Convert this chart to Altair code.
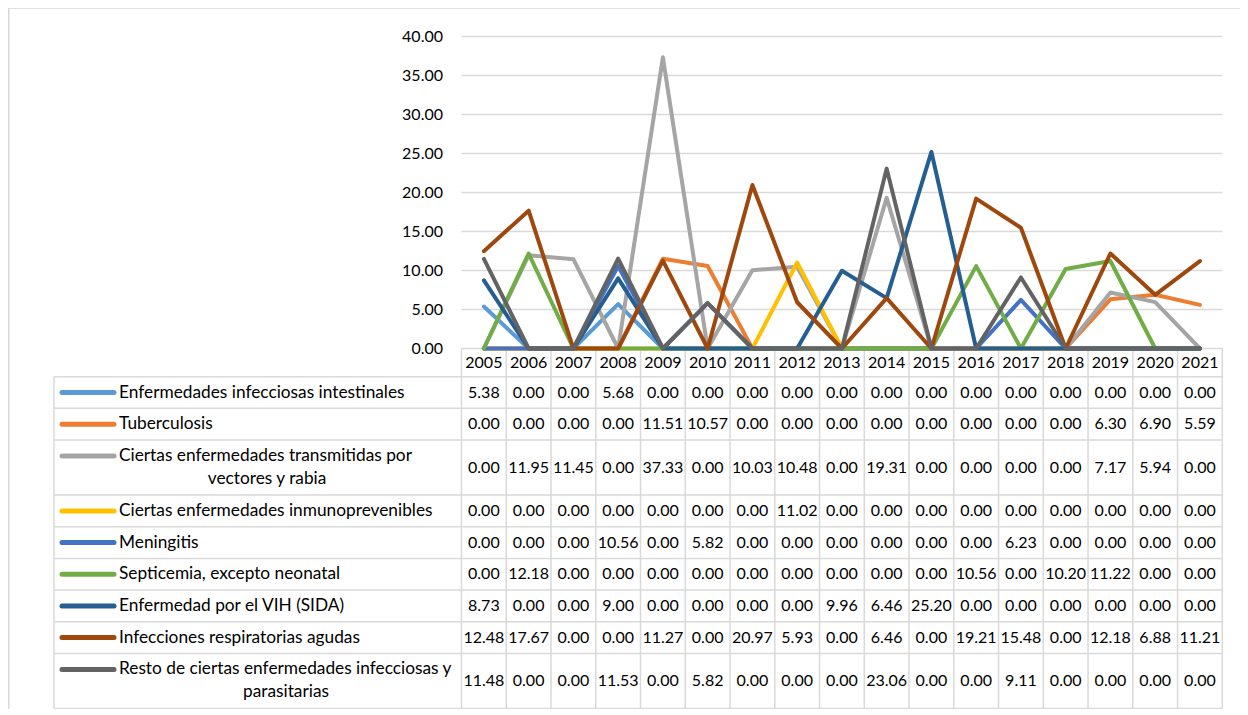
import altair as alt
import pandas as pd

# ---------------- data ----------------
years = list(range(2005, 2022))
series_names = [
    "Enfermedades infecciosas intestinales",
    "Tuberculosis",
    "Ciertas enfermedades transmitidas por vectores y rabia",
    "Ciertas enfermedades inmunoprevenibles",
    "Meningitis",
    "Septicemia, excepto neonatal",
    "Enfermedad por el VIH (SIDA)",
    "Infecciones respiratorias agudas",
    "Resto de ciertas enfermedades infecciosas y parasitarias",
]
label_lines = [
    ["Enfermedades infecciosas intestinales"],
    ["Tuberculosis"],
    ["Ciertas enfermedades transmitidas por", "vectores y rabia"],
    ["Ciertas enfermedades inmunoprevenibles"],
    ["Meningitis"],
    ["Septicemia, excepto neonatal"],
    ["Enfermedad por el VIH (SIDA)"],
    ["Infecciones respiratorias agudas"],
    ["Resto de ciertas enfermedades infecciosas y", "parasitarias"],
]
intestinales = [5.38, 0, 0, 5.68, 0, 0, 0, 0, 0, 0, 0, 0, 0, 0, 0, 0, 0]
tuberculosis = [0, 0, 0, 0, 11.51, 10.57, 0, 0, 0, 0, 0, 0, 0, 0, 6.30, 6.90, 5.59]
vectores = [0, 11.95, 11.45, 0, 37.33, 0, 10.03, 10.48, 0, 19.31, 0, 0, 0, 0, 7.17, 5.94, 0]
inmunoprevenibles = [0, 0, 0, 0, 0, 0, 0, 11.02, 0, 0, 0, 0, 0, 0, 0, 0, 0]
meningitis = [0, 0, 0, 10.56, 0, 5.82, 0, 0, 0, 0, 0, 0, 6.23, 0, 0, 0, 0]
septicemia = [0, 12.18, 0, 0, 0, 0, 0, 0, 0, 0, 0, 10.56, 0, 10.20, 11.22, 0, 0]
vih = [8.73, 0, 0, 9.00, 0, 0, 0, 0, 9.96, 6.46, 25.20, 0, 0, 0, 0, 0, 0]
respiratorias = [12.48, 17.67, 0, 0, 11.27, 0, 20.97, 5.93, 0, 6.46, 0, 19.21, 15.48, 0, 12.18, 6.88, 11.21]
resto = [11.48, 0, 0, 11.53, 0, 5.82, 0, 0, 0, 23.06, 0, 0, 9.11, 0, 0, 0, 0]
series_values = [intestinales, tuberculosis, vectores, inmunoprevenibles, meningitis,
                 septicemia, vih, respiratorias, resto]
y_ticks = [0, 5, 10, 15, 20, 25, 30, 35, 40]

# ---------------- styles / layout ----------------
colors = ["#5B9BD5", "#ED7D31", "#A5A5A5", "#FFC000", "#4472C4",
          "#70AD47", "#255E91", "#9E480E", "#636363"]
FONT = "Lato"
FS_NUM = 16
FS_LAB = 17.3
GRID = "#d9d9d9"
W, H = 1232, 701


def px(x):
    return x - 8


def py(y):
    return y - 8


PLOT_L, PLOT_R = 461.5, 1222.3
Y_ZERO, Y_TOP = 348.5, 36.5
TABLE_L = 54
HEADER_H = 28.2
row_heights = [31.67, 31.67, 55, 31.67, 31.67, 31.67, 31.67, 31.67, 55]
total_h = HEADER_H + sum(row_heights)

xscale = alt.Scale(domain=[2004.5, 2021.5], range=[px(PLOT_L), px(PLOT_R)], nice=False, zero=False)
vscale = alt.Scale(domain=[0, 40], range=[py(Y_ZERO), py(Y_TOP)], nice=False, zero=False)
tscale = alt.Scale(domain=[0, total_h], range=[py(Y_ZERO), py(Y_ZERO + total_h)], nice=False, zero=False)

one = pd.DataFrame({"a": [0]})

layers = []

# chart border (top + left)
layers.append(alt.Chart(one).mark_rule(color=GRID, strokeWidth=1.5).encode(
    x=alt.value(0), x2=alt.value(W), y=alt.value(0)))
layers.append(alt.Chart(one).mark_rule(color=GRID, strokeWidth=1.5).encode(
    x=alt.value(0.8), y=alt.value(0), y2=alt.value(H)))

# gridlines
ticks_df = pd.DataFrame({"v": y_ticks, "lab": [f"{t:.2f}" for t in y_ticks]})
layers.append(alt.Chart(ticks_df).mark_rule(color=GRID, strokeWidth=1.5).encode(
    y=alt.Y("v:Q", scale=vscale, axis=None),
    x=alt.value(px(PLOT_L)), x2=alt.value(px(PLOT_R))))
layers.append(alt.Chart(ticks_df).mark_text(
    align="right", baseline="middle", font=FONT, fontSize=FS_NUM, color="#000000").encode(
    y=alt.Y("v:Q", scale=vscale, axis=None),
    x=alt.value(px(443)), text="lab:N"))

# table geometry
bounds = [0, HEADER_H]
for h in row_heights:
    bounds.append(bounds[-1] + h)
row_tops = bounds[1:-1]
row_centers = [bounds[i + 1] + row_heights[i] / 2 for i in range(len(row_heights))]

# table body horizontal lines
hb_df = pd.DataFrame({"yb": bounds[1:]})
layers.append(alt.Chart(hb_df).mark_rule(color=GRID, strokeWidth=1.5).encode(
    y=alt.Y("yb:Q", scale=tscale, axis=None),
    x=alt.value(px(TABLE_L)), x2=alt.value(px(PLOT_R))))
# vertical lines
vb_df = pd.DataFrame({"b": [y - 0.5 for y in years] + [years[-1] + 0.5]})
layers.append(alt.Chart(vb_df).mark_rule(color=GRID, strokeWidth=1.5).encode(
    x=alt.X("b:Q", scale=xscale, axis=None),
    y=alt.value(py(Y_ZERO)), y2=alt.value(py(Y_ZERO + total_h))))
layers.append(alt.Chart(one).mark_rule(color=GRID, strokeWidth=1.5).encode(
    x=alt.value(px(TABLE_L)),
    y=alt.value(py(Y_ZERO + HEADER_H)), y2=alt.value(py(Y_ZERO + total_h))))

# lines (one layer per series to keep Excel's drawing order)
for name, vals, col in zip(series_names, series_values, colors):
    df = pd.DataFrame({"year": years, "v": vals})
    layers.append(alt.Chart(df).mark_line(
        color=col, strokeWidth=4, strokeCap="round", strokeJoin="round").encode(
        x=alt.X("year:Q", scale=xscale, axis=None),
        y=alt.Y("v:Q", scale=vscale, axis=None)))

# header years
hdr_df = pd.DataFrame({"year": years, "yc": [HEADER_H / 2 + 0.6] * len(years),
                       "t": [str(y) for y in years]})
layers.append(alt.Chart(hdr_df).mark_text(
    baseline="middle", align="center", font=FONT, fontSize=FS_NUM, color="#000000").encode(
    x=alt.X("year:Q", scale=xscale, axis=None),
    y=alt.Y("yc:Q", scale=tscale, axis=None), text="t:N"))

# cell values
cell_rows = []
for i, vals in enumerate(series_values):
    for yr, v in zip(years, vals):
        cell_rows.append({"year": yr, "yc": row_centers[i], "t": f"{v:.2f}"})
cells_df = pd.DataFrame(cell_rows)
layers.append(alt.Chart(cells_df).mark_text(
    baseline="middle", align="center", font=FONT, fontSize=FS_NUM, color="#000000").encode(
    x=alt.X("year:Q", scale=xscale, axis=None),
    y=alt.Y("yc:Q", scale=tscale, axis=None), text="t:N"))

# legend keys and labels
first_line_y = []
for i, lines in enumerate(label_lines):
    if len(lines) == 1:
        first_line_y.append(row_centers[i])
    else:
        first_line_y.append(row_tops[i] + 16)
sw_df = pd.DataFrame({"name": series_names, "yc": first_line_y})
layers.append(alt.Chart(sw_df).mark_rule(strokeWidth=5, strokeCap="round").encode(
    y=alt.Y("yc:Q", scale=tscale, axis=None),
    x=alt.value(px(62)), x2=alt.value(px(114)),
    color=alt.Color("name:N", scale=alt.Scale(domain=series_names, range=colors), legend=None)))

lab1_df = pd.DataFrame({"t": [l[0] for l in label_lines], "yc": first_line_y})
layers.append(alt.Chart(lab1_df).mark_text(
    align="left", baseline="middle", font=FONT, fontSize=FS_LAB, color="#000000").encode(
    y=alt.Y("yc:Q", scale=tscale, axis=None), x=alt.value(px(119)), text="t:N"))

second = [(i, l[1]) for i, l in enumerate(label_lines) if len(l) > 1]
second_centers_x = {2: 267, 8: 286}
for i, txt in second:
    d = pd.DataFrame({"t": [txt], "yc": [row_tops[i] + 38.5]})
    layers.append(alt.Chart(d).mark_text(
        align="center", baseline="middle", font=FONT, fontSize=FS_LAB, color="#000000").encode(
        y=alt.Y("yc:Q", scale=tscale, axis=None),
        x=alt.value(px(second_centers_x[i])), text="t:N"))

chart = alt.layer(*layers).properties(
    width=W, height=H, autosize="none", padding=0
).resolve_scale(y="independent").configure_view(stroke=None)

chart.save("out.html", embed_options={"renderer": "svg", "actions": False})
